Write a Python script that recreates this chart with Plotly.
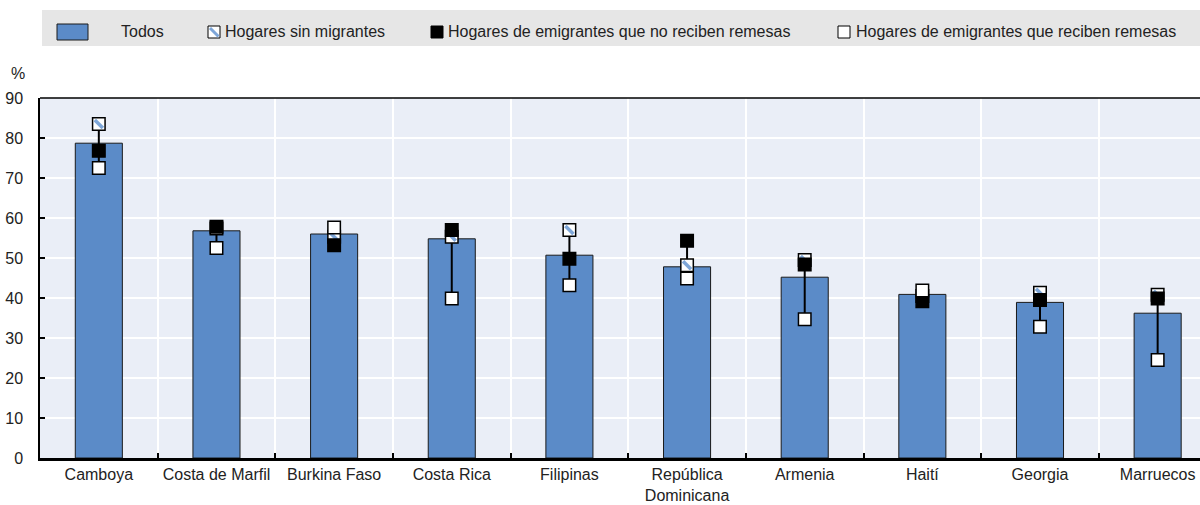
import plotly.graph_objects as go

countries = ["Camboya", "Costa de Marfil", "Burkina Faso", "Costa Rica", "Filipinas",
             "República<br>Dominicana", "Armenia", "Haití", "Georgia", "Marruecos"]
todos = [78.7, 56.8, 56.0, 54.8, 50.7, 47.8, 45.2, 40.9, 38.9, 36.2]
sin_migrantes = [83.5, 57.4, 55.3, 55.3, 57.0, 48.2, 49.5, 40.5, 41.3, 40.8]
no_reciben = [76.8, 57.8, 53.2, 57.0, 49.8, 54.3, 48.4, 39.2, 39.5, 39.9]
reciben = [72.5, 52.5, 57.6, 39.9, 43.2, 44.9, 34.7, 41.9, 32.8, 24.5]

legend_labels = ["Todos", "Hogares sin migrantes",
                 "Hogares de emigrantes que no reciben remesas",
                 "Hogares de emigrantes que reciben remesas"]

BAR = "#5b8bc8"
EDGE = "#1a1a1a"
HATCH = "#7ea6d8"
TXT = "#222222"
FONT = "Liberation Sans, Arial, sans-serif"

W, H = 1200, 505
L, R, T, B = 40, 0, 98, 47
PW, PH = W - L - R, H - T - B

def px(x):
    return (x - L) / PW

def py(y):
    return (H - B - y) / PH

fig = go.Figure()

fig.add_trace(go.Bar(x=countries, y=todos, width=0.4,
                     marker=dict(color=BAR, line=dict(color=EDGE, width=1)),
                     showlegend=False, name=legend_labels[0]))

# range lines from min to max of the three groups
lx, ly = [], []
for c, a, b, d in zip(countries, sin_migrantes, no_reciben, reciben):
    lx += [c, c, None]
    ly += [min(a, b, d), max(a, b, d), None]
fig.add_trace(go.Scatter(x=lx, y=ly, mode="lines", line=dict(color="black", width=2),
                         showlegend=False, hoverinfo="skip"))

fig.add_trace(go.Scatter(x=countries, y=sin_migrantes, mode="markers", name=legend_labels[1],
                         marker=dict(symbol="square", size=12.5, color="white",
                                     line=dict(color="black", width=1.5)),
                         showlegend=False))
fig.add_trace(go.Scatter(x=countries, y=sin_migrantes, mode="markers", hoverinfo="skip",
                         marker=dict(symbol="line-nw", size=8,
                                     line=dict(color=HATCH, width=3.5)),
                         showlegend=False))
fig.add_trace(go.Scatter(x=countries, y=no_reciben, mode="markers", name=legend_labels[2],
                         marker=dict(symbol="square", size=12.5, color="black",
                                     line=dict(color="black", width=1.5)),
                         showlegend=False))
fig.add_trace(go.Scatter(x=countries, y=reciben, mode="markers", name=legend_labels[3],
                         marker=dict(symbol="square", size=12.5, color="white",
                                     line=dict(color="black", width=1.5)),
                         showlegend=False))

shapes = []
# legend background
shapes.append(dict(type="rect", xref="paper", yref="paper", x0=px(42), x1=1,
                   y0=py(46), y1=py(10), fillcolor="#e6e6e6", line=dict(width=0), layer="above"))
# legend swatches
shapes.append(dict(type="rect", xref="paper", yref="paper", x0=px(57), x1=px(88),
                   y0=py(40), y1=py(24), fillcolor=BAR, line=dict(color=EDGE, width=1)))
shapes.append(dict(type="rect", xref="paper", yref="paper", x0=px(208), x1=px(220),
                   y0=py(38), y1=py(26), fillcolor="white", line=dict(color="black", width=1)))
shapes.append(dict(type="line", xref="paper", yref="paper", x0=px(210), x1=px(218.5),
                   y0=py(28), y1=py(36.5), line=dict(color=HATCH, width=3)))
shapes.append(dict(type="rect", xref="paper", yref="paper", x0=px(431), x1=px(443),
                   y0=py(38), y1=py(26), fillcolor="black", line=dict(color="black", width=1)))
shapes.append(dict(type="rect", xref="paper", yref="paper", x0=px(838), x1=px(850),
                   y0=py(38), y1=py(26), fillcolor="white", line=dict(color="black", width=1)))
# top frame line
shapes.append(dict(type="line", xref="paper", yref="paper", x0=0, x1=1, y0=1, y1=1,
                   line=dict(color="black", width=1.5)))

annotations = []
for xpos, label in zip([119, 223, 446, 854], legend_labels):
    annotations.append(dict(xref="paper", yref="paper", x=px(xpos), y=py(31),
                            text=label, showarrow=False, xanchor="left", yanchor="middle",
                            font=dict(family=FONT, size=16, color=TXT)))
annotations.append(dict(xref="paper", yref="paper", x=px(18), y=py(73), text="%",
                        showarrow=False, xanchor="center", yanchor="middle",
                        font=dict(family=FONT, size=16, color=TXT)))

fig.update_layout(
    width=W, height=H,
    margin=dict(l=L, r=R, t=T, b=B, pad=0, autoexpand=False),
    paper_bgcolor="white", plot_bgcolor="#eaeef7",
    font=dict(family=FONT, size=16, color=TXT),
    shapes=shapes, annotations=annotations,
    bargap=0.6,
    xaxis=dict(type="category", range=[-0.5, 9.36], tickson="boundaries",
               ticks="inside", ticklen=5, tickwidth=1.5, tickcolor="black",
               showgrid=True, gridcolor="white", gridwidth=2,
               showline=True, linecolor="black", linewidth=2.5, automargin=False,
               tickfont=dict(family=FONT, size=16, color=TXT), fixedrange=True),
    yaxis=dict(range=[0, 90], dtick=10, ticks="inside", ticklen=5, tickwidth=1.5,
               tickcolor="black", showgrid=True, gridcolor="white", gridwidth=2,
               showline=True, linecolor="black", linewidth=1.5, zeroline=False,
               ticklabelstandoff=12, automargin=False,
               tickfont=dict(family=FONT, size=16, color=TXT), fixedrange=True),
)

fig.write_html("out.html", config={"displayModeBar": False},
               post_script="document.body.style.margin='0';document.body.style.overflow='hidden';")
